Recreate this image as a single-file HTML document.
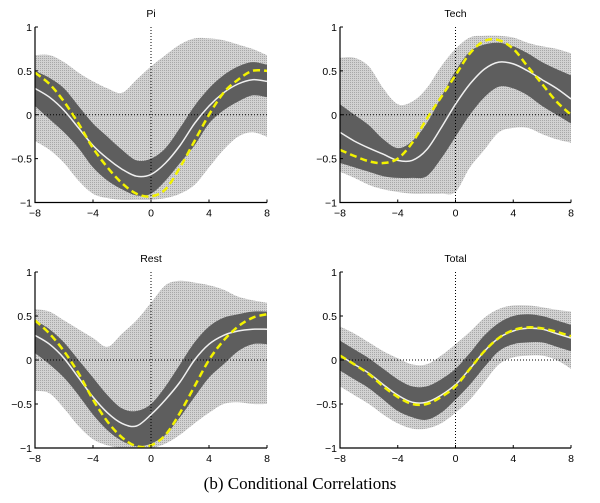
<!DOCTYPE html>
<html><head><meta charset="utf-8"><style>
html,body{margin:0;padding:0;background:#fff;width:600px;height:503px;overflow:hidden}
svg{display:block}
</style></head><body>
<svg id="chart" width="600" height="503" xmlns="http://www.w3.org/2000/svg">
<text x="300" y="489" text-anchor="middle" font-family="Liberation Serif, serif" font-size="17" fill="#000">(b) Conditional Correlations</text>
</svg>
<script>
const lags = [-8,-7,-6,-5,-4,-3,-2,-1,0,1,2,3,4,5,6,7,8];
const xTicks = [-8,-4,0,4,8];
const yTicks = [-1,-0.5,0,0.5,1];
const yTickLabels = ["\u22121","\u22120.5","0","0.5","1"];
const xTickLabels = ["\u22128","\u22124","0","4","8"];
const panelTitles = ["Pi","Tech","Rest","Total"];

const piLightUp = [0.68,0.68,0.6,0.48,0.38,0.3,0.25,0.4,0.55,0.68,0.8,0.87,0.87,0.85,0.8,0.75,0.68];
const piLightLo = [-0.3,-0.4,-0.55,-0.75,-0.9,-0.95,-0.97,-0.97,-0.97,-0.95,-0.9,-0.8,-0.6,-0.4,-0.25,-0.2,-0.25];
const piDarkUp = [0.5,0.42,0.3,0.1,-0.1,-0.25,-0.4,-0.52,-0.5,-0.38,-0.15,0.1,0.3,0.45,0.55,0.6,0.57];
const piDarkLo = [0.1,-0.05,-0.2,-0.38,-0.6,-0.75,-0.85,-0.92,-0.9,-0.75,-0.55,-0.35,-0.1,0.05,0.15,0.22,0.2];
const piMean = [0.3,0.2,0.05,-0.15,-0.35,-0.5,-0.62,-0.7,-0.68,-0.55,-0.35,-0.1,0.1,0.25,0.35,0.4,0.38];
const piModel = [0.48,0.35,0.15,-0.1,-0.38,-0.6,-0.78,-0.9,-0.93,-0.85,-0.6,-0.3,0.0,0.25,0.4,0.5,0.5];

const techLightUp = [0.65,0.65,0.55,0.3,0.12,0.15,0.3,0.55,0.75,0.88,0.9,0.9,0.88,0.82,0.78,0.75,0.7];
const techLightLo = [-0.65,-0.72,-0.8,-0.85,-0.88,-0.9,-0.9,-0.9,-0.88,-0.6,-0.4,-0.2,-0.15,-0.15,-0.22,-0.28,-0.32];
const techDarkUp = [0.12,0.0,-0.12,-0.28,-0.38,-0.3,-0.1,0.2,0.5,0.72,0.8,0.82,0.78,0.7,0.6,0.52,0.45];
const techDarkLo = [-0.55,-0.6,-0.65,-0.7,-0.72,-0.72,-0.7,-0.5,-0.25,0.0,0.2,0.32,0.3,0.22,0.1,0.0,-0.1];
const techMean = [-0.2,-0.3,-0.38,-0.45,-0.52,-0.52,-0.4,-0.15,0.12,0.35,0.52,0.6,0.58,0.5,0.4,0.3,0.18];
const techModel = [-0.4,-0.47,-0.53,-0.55,-0.5,-0.32,-0.05,0.2,0.45,0.7,0.84,0.85,0.75,0.55,0.35,0.15,0.0];

const restLightUp = [0.58,0.55,0.45,0.35,0.25,0.15,0.3,0.45,0.65,0.85,0.9,0.88,0.85,0.8,0.72,0.68,0.65];
const restLightLo = [-0.35,-0.38,-0.55,-0.75,-0.9,-0.97,-1,-1,-1,-0.95,-0.85,-0.72,-0.6,-0.5,-0.48,-0.5,-0.5];
const restDarkUp = [0.45,0.35,0.2,0,-0.2,-0.4,-0.55,-0.58,-0.5,-0.3,-0.05,0.2,0.38,0.48,0.52,0.55,0.55];
const restDarkLo = [0.08,-0.05,-0.2,-0.4,-0.62,-0.8,-0.92,-0.98,-0.95,-0.85,-0.65,-0.42,-0.2,-0.05,0.1,0.18,0.18];
const restMean = [0.28,0.18,0.02,-0.2,-0.42,-0.6,-0.72,-0.75,-0.62,-0.45,-0.25,0,0.18,0.28,0.33,0.35,0.35];
const restModel = [0.45,0.3,0.1,-0.15,-0.45,-0.7,-0.88,-0.98,-0.97,-0.85,-0.6,-0.3,0,0.22,0.38,0.48,0.52];

const totalLightUp = [0.38,0.3,0.2,0.1,0.02,-0.05,-0.05,0.05,0.18,0.32,0.48,0.58,0.62,0.62,0.6,0.57,0.55];
const totalLightLo = [-0.3,-0.4,-0.5,-0.62,-0.72,-0.78,-0.78,-0.72,-0.6,-0.45,-0.25,-0.05,0.03,0.05,0.05,0.0,-0.1];
const totalDarkUp = [0.22,0.12,0.02,-0.1,-0.22,-0.3,-0.3,-0.22,-0.1,0.08,0.28,0.42,0.5,0.52,0.5,0.45,0.4];
const totalDarkLo = [-0.12,-0.22,-0.32,-0.45,-0.58,-0.65,-0.68,-0.6,-0.45,-0.28,-0.08,0.1,0.18,0.2,0.2,0.15,0.1];
const totalMean = [0.05,-0.05,-0.15,-0.28,-0.4,-0.48,-0.48,-0.4,-0.28,-0.1,0.1,0.25,0.33,0.36,0.35,0.3,0.25];
const totalModel = [0.05,-0.05,-0.16,-0.3,-0.42,-0.5,-0.5,-0.42,-0.3,-0.1,0.1,0.25,0.34,0.37,0.36,0.32,0.27];

const panels = [
 {name:"pi", lu:piLightUp, ll:piLightLo, du:piDarkUp, dl:piDarkLo, m:piMean, y:piModel, box:[35,267,27,202.5]},
 {name:"tech", lu:techLightUp, ll:techLightLo, du:techDarkUp, dl:techDarkLo, m:techMean, y:techModel, box:[340,571,27,202.5]},
 {name:"rest", lu:restLightUp, ll:restLightLo, du:restDarkUp, dl:restDarkLo, m:restMean, y:restModel, box:[35,267,272,448]},
 {name:"total", lu:totalLightUp, ll:totalLightLo, du:totalDarkUp, dl:totalDarkLo, m:totalMean, y:totalModel, box:[340,571,272,448]}
];
const NS="http://www.w3.org/2000/svg";
const svg=document.getElementById('chart');
function mk(tag,attrs,parent){const e=document.createElementNS(NS,tag);for(const k in attrs)e.setAttribute(k,attrs[k]);(parent||svg).appendChild(e);return e;}
function smooth(pts){
 let d="";
 for(let i=0;i<pts.length-1;i++){
  const p0=pts[Math.max(0,i-1)],p1=pts[i],p2=pts[i+1],p3=pts[Math.min(pts.length-1,i+2)];
  const c1=[p1[0]+(p2[0]-p0[0])/6,p1[1]+(p2[1]-p0[1])/6];
  const c2=[p2[0]-(p3[0]-p1[0])/6,p2[1]-(p3[1]-p1[1])/6];
  d+=` C${c1[0].toFixed(1)},${c1[1].toFixed(1)} ${c2[0].toFixed(1)},${c2[1].toFixed(1)} ${p2[0].toFixed(1)},${p2[1].toFixed(1)}`;
 }
 return d;
}
const defs=mk('defs',{});
const pat=mk('pattern',{id:'dots',width:2,height:2,patternUnits:'userSpaceOnUse'},defs);
mk('rect',{width:2,height:2,fill:'#d2d2d2'},pat);
mk('rect',{width:1,height:1,fill:'#a8a8a8'},pat);

panels.forEach((p,pi)=>{
 const [x0,x1,y0,y1]=p.box;
 const X=v=>x0+(v+8)/16*(x1-x0);
 const Y=v=>y1-(v+1)/2*(y1-y0);
 const g=mk('g',{});
 
 
 const band=(up,lo,fill,nm)=>{
  const u=lags.map((l,i)=>[X(l),Y(up[i])]);
  const w=lags.map((l,i)=>[X(l),Y(lo[i])]).reverse();
  const d="M"+u[0][0]+","+u[0][1]+smooth(u)+" L"+w[0][0]+","+w[0][1]+smooth(w)+"Z";
  const e=mk('path',{d:d,fill:fill},g);
  
  
 };
 band(p.lu,p.ll,'url(#dots)',p.name+'-outer-band');
 band(p.du,p.dl,'#5e5e5e',p.name+'-inner-band');
 const line=(vals,attrs,nm)=>{
  const pts=lags.map((l,i)=>[X(l),Y(vals[i])]);
  const e=mk('path',Object.assign({d:"M"+pts[0][0]+","+pts[0][1]+smooth(pts),fill:'none'},attrs),g);
  
  
 };
 const z1=mk('line',{x1:X(-8),x2:X(8),y1:Y(0),y2:Y(0),stroke:'#000','stroke-width':1,'stroke-dasharray':'1,2'},g);
 
 
 const z2=mk('line',{x1:X(0),x2:X(0),y1:Y(1),y2:Y(-1),stroke:'#000','stroke-width':1,'stroke-dasharray':'1,2'},g);
 
 
 line(p.m,{stroke:'#f0f0f0','stroke-width':1.5},p.name+'-mean-line');
 line(p.y,{stroke:'#f2f200','stroke-width':2.5,'stroke-dasharray':'7,4'},p.name+'-model-line');
 const ax=mk('path',{d:`M${x0},${y0} L${x0},${y1} L${x1},${y1}`,fill:'none',stroke:'#000','stroke-width':1.2},g);
 
 
 xTicks.forEach((t,i)=>{
  mk('line',{x1:X(t),x2:X(t),y1:y1,y2:y1-3,stroke:'#000'},g);
  const tx=mk('text',{x:X(t),y:y1+14,'text-anchor':'middle','font-family':'Liberation Sans, sans-serif','font-size':10.5},g);
  tx.textContent=xTickLabels[i];
  
  
 });
 yTicks.forEach((t,i)=>{
  mk('line',{x1:x0,x2:x0+3,y1:Y(t),y2:Y(t),stroke:'#000'},g);
  const tx=mk('text',{x:x0-3,y:Y(t)+4,'text-anchor':'end','font-family':'Liberation Sans, sans-serif','font-size':10.5},g);
  tx.textContent=yTickLabels[i];
  
  
 });
 const tt=mk('text',{x:(x0+x1)/2,y:y0-10,'text-anchor':'middle','font-family':'Liberation Sans, sans-serif','font-size':10.5},g);
 tt.textContent=panelTitles[pi];
 
 
});
</script>
</body></html>
